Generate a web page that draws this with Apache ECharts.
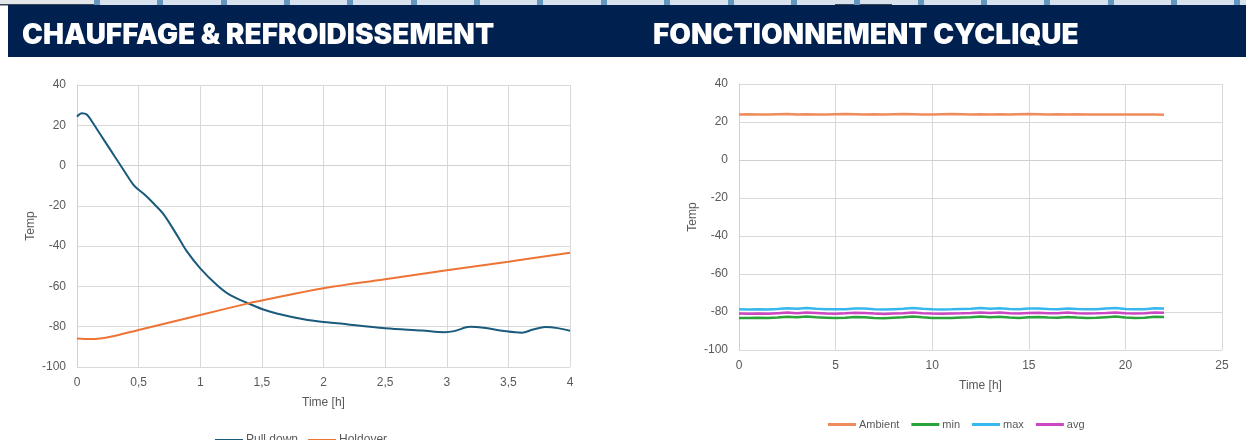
<!DOCTYPE html>
<html>
<head>
<meta charset="utf-8">
<script src="https://cdn.jsdelivr.net/npm/echarts@6/dist/echarts.min.js"></script>
<style>
html,body{margin:0;padding:0;background:#fff;}
#chart{width:1246px;height:440px;}
</style>
</head>
<body>
<div id="chart"></div>
<script>
// ---- Left chart: Chauffage & refroidissement ----
var pullTime = [0, 0.04, 0.08, 0.12, 0.19, 0.27, 0.35, 0.42, 0.47, 0.55, 0.62, 0.7, 0.81, 0.89, 1.0, 1.135, 1.24, 1.39, 1.5, 1.62, 1.84, 2.0, 2.11, 2.5, 2.8, 2.98, 3.06, 3.19, 3.3, 3.45, 3.61, 3.7, 3.8, 3.9, 4.0];
var pullTemp = [24.3, 26.0, 25.3, 22.0, 15.4, 7.9, 0.4, -6.2, -10.4, -14.5, -18.7, -24.0, -34.4, -42.5, -51.0, -59.3, -64.2, -68.4, -71.2, -73.4, -76.3, -77.7, -78.3, -80.8, -81.9, -82.7, -82.2, -80.0, -80.5, -82.0, -83.0, -81.4, -80.2, -80.7, -82.0];
var holdTime = [0, 0.12, 0.27, 0.5, 1.0, 1.39, 1.5, 2.0, 2.5, 3.0, 3.5, 4.0];
var holdTemp = [-85.8, -86.1, -85.0, -81.6, -74.2, -68.4, -67.0, -60.9, -56.4, -52.0, -47.7, -43.3];
var leftXTicks = [0, 0.5, 1, 1.5, 2, 2.5, 3, 3.5, 4];

// ---- Right chart: Fonctionnement cyclique ----
var cycTime = [0,0.5,1,1.5,2,2.5,3,3.5,4,4.5,5,5.5,6,6.5,7,7.5,8,8.5,9,9.5,10,10.5,11,11.5,12,12.5,13,13.5,14,14.5,15,15.5,16,16.5,17,17.5,18,18.5,19,19.5,20,20.5,21,21.5,22];
var ambient = [24.0,24.1,23.9,24.0,24.1,24.2,24.0,24.1,24.0,23.9,24.1,24.2,24.1,24.0,24.1,24.0,24.1,24.2,24.1,24.0,24.0,24.1,24.2,24.1,24.0,24.1,24.0,24.1,24.0,24.1,24.2,24.1,24.0,24.1,24.0,24.1,24.0,23.9,24.0,24.0,23.9,24.0,23.9,23.9,23.8];
var tMin = [-83.1,-83.2,-83.0,-83.2,-82.9,-82.5,-82.8,-82.4,-82.8,-83.0,-83.2,-83.0,-82.6,-82.7,-83.1,-83.3,-83.0,-82.8,-82.4,-82.8,-83.1,-83.2,-83.1,-82.9,-82.8,-82.4,-82.8,-82.5,-82.9,-83.1,-82.7,-82.6,-82.9,-83.0,-82.6,-82.9,-83.1,-83.0,-82.7,-82.4,-82.9,-83.1,-83.0,-82.5,-82.6];
var tMax = [-78.6,-78.7,-78.6,-78.7,-78.4,-78.0,-78.3,-77.9,-78.3,-78.5,-78.6,-78.5,-78.1,-78.2,-78.6,-78.7,-78.5,-78.3,-77.9,-78.3,-78.6,-78.7,-78.6,-78.4,-78.3,-77.9,-78.3,-78.0,-78.4,-78.6,-78.2,-78.1,-78.4,-78.5,-78.1,-78.4,-78.6,-78.5,-78.2,-77.9,-78.4,-78.6,-78.5,-78.0,-78.1];
var tAvg = [-80.8,-80.9,-80.8,-80.9,-80.6,-80.3,-80.6,-80.2,-80.5,-80.8,-80.9,-80.7,-80.4,-80.5,-80.8,-81.0,-80.8,-80.6,-80.2,-80.6,-80.8,-80.9,-80.8,-80.7,-80.5,-80.2,-80.5,-80.3,-80.6,-80.8,-80.5,-80.4,-80.6,-80.7,-80.3,-80.6,-80.8,-80.7,-80.5,-80.2,-80.6,-80.8,-80.7,-80.3,-80.4];

var leftTitle = 'CHAUFFAGE & REFROIDISSEMENT';
var rightTitle = 'FONCTIONNEMENT CYCLIQUE';

function pairs(xs, ys){ return xs.map(function(x,i){ return [x, ys[i]]; }); }

var labelColor = '#595959';
var gridColor = '#d9d9d9';
var fontFam = 'Liberation Sans, Arial, sans-serif';

function xAxisCfg(gridIndex, min, max, interval, fmt){
  return {
    type: 'value', gridIndex: gridIndex, min: min, max: max, interval: interval,
    name: 'Time [h]', nameLocation: 'middle', nameGap: 30,
    nameTextStyle: {color: labelColor, fontSize: 12, fontFamily: fontFam},
    axisLine: {show: true, lineStyle: {color: '#d0d0d0'}},
    axisTick: {show: false},
    axisLabel: {color: labelColor, fontSize: 12, fontFamily: fontFam, margin: 10, formatter: fmt},
    splitLine: {show: true, lineStyle: {color: gridColor}}
  };
}
function yAxisCfg(gridIndex){
  return {
    type: 'value', gridIndex: gridIndex, min: -100, max: 40, interval: 20,
    name: 'Temp', nameLocation: 'middle', nameGap: 40, nameRotate: 90,
    nameTextStyle: {color: labelColor, fontSize: 12, fontFamily: fontFam},
    axisLine: {show: true, lineStyle: {color: '#d0d0d0'}},
    axisTick: {show: false},
    axisLabel: {color: labelColor, fontSize: 12, fontFamily: fontFam, margin: 11},
    splitLine: {show: true, lineStyle: {color: gridColor}}
  };
}

// decorative top strip
var strip = [
  {type:'rect', shape:{x:0,y:0,width:1246,height:5}, style:{fill:'#d7e2ee'}, silent:true},
  {type:'rect', shape:{x:0,y:0,width:95,height:5}, style:{fill:'#e3e6ea'}, silent:true},
  {type:'rect', shape:{x:0,y:4,width:94,height:1.5}, style:{fill:'#3a4654'}, silent:true},
  {type:'rect', shape:{x:835,y:4,width:57,height:1.5}, style:{fill:'#3a4654'}, silent:true}
];
for (var sx = 94; sx < 1246; sx += 63.35) {
  strip.push({type:'rect', shape:{x:Math.round(sx), y:0, width:6, height:5}, style:{fill:'#6397bf'}, silent:true});
}

var option = {
  animation: false,
  backgroundColor: '#ffffff',
  graphic: strip.concat([
    {type:'rect', shape:{x:8, y:5, width:1238, height:52}, style:{fill:'#00214f'}, silent:true},
    {type:'text', left: 22, top: 22, style:{text: leftTitle, fill:'#ffffff', font:'900 28px Inter, "Open Sans", sans-serif'}, silent:true},
    {type:'text', left: 653, top: 22, style:{text: rightTitle, fill:'#ffffff', font:'900 28px Inter, "Open Sans", sans-serif'}, silent:true}
  ]),
  grid: [
    {left: 77, top: 85, width: 493, height: 282},
    {left: 739, top: 84, width: 483, height: 266}
  ],
  xAxis: [
    xAxisCfg(0, 0, 4, 0.5, function(v){ return String(v).replace('.', ','); }),
    xAxisCfg(1, 0, 25, 5, null)
  ],
  yAxis: [yAxisCfg(0), yAxisCfg(1)],
  legend: [
    {data: ['Pull down', 'Holdover'], left: 215, top: 434, padding: 0, icon: 'rect', itemWidth: 28, itemHeight: 2, itemGap: 10,
     textStyle: {color: labelColor, fontSize: 12, fontFamily: fontFam, padding: [0, 0, 0, -2]}},
    {data: ['Ambient', 'min', 'max', 'avg'], left: 828, top: 419, padding: 0, icon: 'rect', itemWidth: 28, itemHeight: 3, itemGap: 12,
     textStyle: {color: labelColor, fontSize: 11, fontFamily: fontFam, padding: [0, 0, 0, -2]}}
  ],
  series: [
    {name: 'Pull down', type: 'line', xAxisIndex: 0, yAxisIndex: 0, data: pairs(pullTime, pullTemp), smooth: 0.35, showSymbol: false, symbol: 'none', lineStyle: {color: '#1a5b7d', width: 2}, itemStyle: {color: '#1a5b7d'}},
    {name: 'Holdover', type: 'line', xAxisIndex: 0, yAxisIndex: 0, data: pairs(holdTime, holdTemp), smooth: 0.4, showSymbol: false, symbol: 'none', lineStyle: {color: '#ee7436', width: 2}, itemStyle: {color: '#ee7436'}},
    {name: 'Ambient', type: 'line', xAxisIndex: 1, yAxisIndex: 1, data: pairs(cycTime, ambient), showSymbol: false, symbol: 'none', lineStyle: {color: '#f08c5c', width: 2.5}, itemStyle: {color: '#f08c5c'}},
    {name: 'min', type: 'line', xAxisIndex: 1, yAxisIndex: 1, data: pairs(cycTime, tMin), showSymbol: false, symbol: 'none', lineStyle: {color: '#2aa43a', width: 2.5}, itemStyle: {color: '#2aa43a'}},
    {name: 'max', type: 'line', xAxisIndex: 1, yAxisIndex: 1, data: pairs(cycTime, tMax), showSymbol: false, symbol: 'none', lineStyle: {color: '#36b8ee', width: 2.5}, itemStyle: {color: '#36b8ee'}},
    {name: 'avg', type: 'line', xAxisIndex: 1, yAxisIndex: 1, data: pairs(cycTime, tAvg), showSymbol: false, symbol: 'none', lineStyle: {color: '#cc47c4', width: 2.5}, itemStyle: {color: '#cc47c4'}}
  ]
};

var chart = echarts.init(document.getElementById('chart'), null, {renderer: 'canvas'});
chart.setOption(option);
</script>
</body>
</html>
